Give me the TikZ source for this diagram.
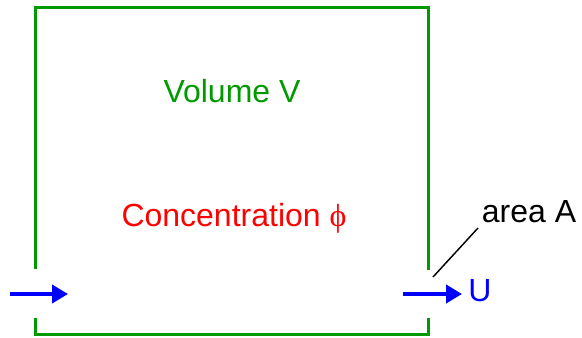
\documentclass[tikz,border=0pt]{standalone}
\usepackage{fontspec}
\setmainfont{Liberation Sans}
\newfontfamily\greekfont{Liberation Serif}
\usetikzlibrary{arrows.meta}
\definecolor{boxgreen}{RGB}{0,153,0}

\begin{document}
\begin{tikzpicture}[
    x=0.75pt, y=-0.75pt,
    every node/.style={inner sep=0pt, font=\fontsize{24}{28}\selectfont},
    wall/.style={boxgreen, line width=2.25pt, line join=miter},
    flow/.style={-{Triangle[length=12pt, width=13.5pt]}, blue, line width=3pt}
]
\useasboundingbox (0,0) rectangle (582,338);
% the control volume, open at inlet and outlet
\draw[wall] (35.5,269) -- (35.5,7.5) -- (428.3,7.5) -- (428.3,270);
\draw[wall] (35.5,318) -- (35.5,334.5) -- (428.3,334.5) -- (428.3,318);
\node (vol) [anchor=base, text=boxgreen] at (232,103) {Volume V};
\node (conc) [anchor=base, text=red] at (234,227) {Concentration {\greekfont ϕ}};
\node (area) [anchor=base] at (529,223) {area A};
\node (u) [anchor=base west, text=blue] at (468,302) {U};
% flow in and out
\coordinate (in0) at (10,294);
\coordinate (in1) at (68,294);
\coordinate (out0) at (403,294);
\coordinate (out1) at (462,294);
\coordinate (tip) at (433,277);
\coordinate (lead) at (478,228);
\draw[flow] (in0) -- (in1);
\draw[flow] (out0) -- (out1);
\draw[line width=1.1pt] (tip) -- (lead);
\end{tikzpicture}
\end{document}
